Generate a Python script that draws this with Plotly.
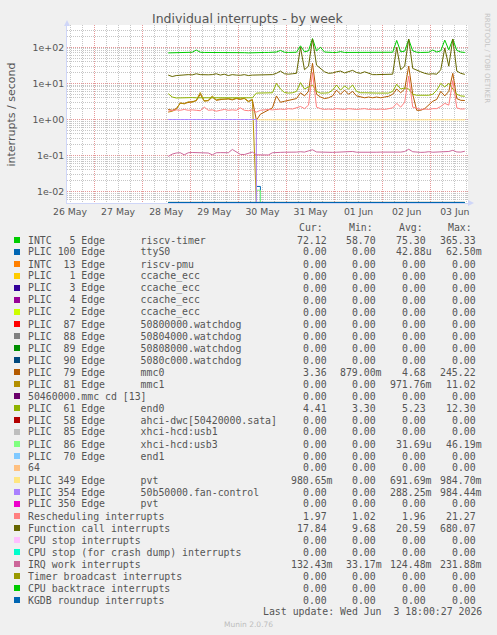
import plotly.graph_objects as go
import pandas as pd

# ---------------- data ----------------
times = pd.date_range("2026-05-28 13:00", periods=75, freq="2h")

timer = [70, 71, 72, 72, 72, 72, 73, 84, 73, 72,
         72, 74, 72, 72, 71, 72, 73, 72, 72, 71,
         70, 71, 73, 72, 72, 72, 74, 74, 82, 73,
         72, 72, 73, 110, 75, 80, 175, 80, 100, 74,
         72, 72, 72, 76, 72, 72, 75, 72, 72, 72,
         72, 72, 72, 72, 72, 72, 73, 155, 75, 78,
         165, 80, 73, 72, 74, 73, 84, 74, 80, 158,
         85, 170, 82, 74, 72]

funccall = [17, 15.5, 16.5, 17, 16.8, 17.5, 17.2, 18.5, 17.5, 17,
            17.3, 17.5, 18.5, 17, 18, 16.5, 17.5, 17, 16.8, 17.5,
            16.5, 17, 17, 17, 17.5, 17.2, 17.5, 19, 22, 18.5,
            18, 18.5, 19, 100, 24, 30, 170, 32, 26, 21,
            19, 19.5, 21, 22, 19.5, 21, 23, 20, 19, 21,
            19, 17.5, 17.5, 17.5, 17.5, 17.5, 18, 100, 24, 30,
            170, 26, 23, 21, 19, 18, 18.5, 18, 24, 95,
            30, 170, 22, 19, 17.8]

end0 = [5.2, 4.2, 3.95, 4.0, 4.0, 4.0, 4.05, 4.0, 4.0, 4.0,
        4.0, 4.05, 4.0, 4.0, 4.0, 4.0, 4.05, 4.0, 4.0, 4.0,
        4.0, 4.0, 5.4, 5.4, 5.4, 5.4, 5.5, 10, 7, 5.6,
        5.4, 5.5, 6, 10.5, 7, 8, 9, 6, 5.4, 5.4,
        5.5, 6.5, 9, 6.5, 8.5, 7, 9, 6, 5.5, 5.5,
        5.4, 5.4, 5.4, 5.4, 5.4, 5.4, 6, 9.5, 7, 7.5,
        7, 5, 4.7, 4.7, 4.7, 4.7, 5, 6.5, 10, 8,
        10, 7, 5, 4.5, 4.4]

mmc0 = [1.9, 1.8, 2.0, 2.8, 2.8, 3.0, 3.1, 3.3, 5.0, 3.3,
        3.3, 4.2, 3.4, 3.6, 3.7, 3.7, 3.5, 3.8, 3.6, 3.9,
        3.2, 3.5, 0.95, 1.4, 1.6, 1.8, 2.1, 4.5, 3.0, 3.2,
        3.4, 3.6, 3.8, 5.5, 4.5, 6, 36, 5, 4.2, 3.8,
        4.0, 4.5, 6.5, 5, 6.5, 5, 6, 4.5, 4.2, 4.0,
        4.2, 4.0, 4.2, 4.0, 4.2, 4.4, 5, 7, 5.5, 7,
        30, 5, 1.8, 1.8, 2.0, 2.6, 3.2, 3.6, 6, 4.5,
        6, 19, 3.8, 3.4, 3.36]

mmc1 = [1.6, 1.7, 1.9, 2.9, 2.7, 3.1, 3.0, 3.4, 5.6, 3.2,
        3.4, 4.5, 3.5, 3.7, 3.6, 3.8, 3.6, 3.9, 3.7, 3.8,
        3.1, 3.6, 0, 0, 0, 0, 0, 0, 0, 0,
        0, 0, 0, 0, 0, 0, 0, 0, 0, 0,
        0, 0, 0, 0, 0, 0, 0, 0, 0, 0,
        0, 0, 0, 0, 0, 0, 0, 0, 0, 0,
        0, 0, 0, 0, 0, 0, 0, 0, 0, 0,
        0, 0, 0, 0, 0]

resched = [1.7, 1.8, 1.85, 1.8, 1.9, 1.8, 1.85, 1.8, 1.75, 2.2,
           1.8, 1.85, 1.7, 1.8, 1.9, 1.8, 1.85, 1.8, 2.1, 1.8,
           1.75, 1.85, 1.6, 1.8, 1.85, 1.9, 1.85, 1.9, 1.95, 1.9,
           2.0, 1.95, 2.1, 2.3, 2.0, 2.5, 20, 2.2, 2.0, 1.9,
           1.95, 1.9, 2.0, 1.95, 1.9, 2.0, 1.95, 1.9, 1.95, 2.0,
           1.9, 1.95, 1.9, 1.95, 1.9, 2.0, 2.1, 2.8, 2.2, 3.0,
           16, 2.2, 2.0, 1.9, 1.95, 1.9, 2.0, 2.0, 2.3, 2.8,
           2.5, 12, 2.1, 1.95, 1.97]

irqwork = [0.095, 0.11, 0.118, 0.12, 0.105, 0.12, 0.122, 0.12, 0.121, 0.12,
           0.118, 0.105, 0.12, 0.121, 0.12, 0.12, 0.148, 0.125, 0.108, 0.107,
           0.118, 0.125, 0.105, 0.105, 0.105, 0.104, 0.12, 0.124, 0.123, 0.124,
           0.123, 0.124, 0.125, 0.128, 0.125, 0.135, 0.145, 0.126, 0.124, 0.123,
           0.124, 0.123, 0.124, 0.125, 0.124, 0.126, 0.13, 0.124, 0.123, 0.124,
           0.124, 0.123, 0.124, 0.125, 0.124, 0.123, 0.124, 0.126, 0.125, 0.13,
           0.15, 0.128, 0.124, 0.123, 0.124, 0.128, 0.124, 0.125, 0.126, 0.13,
           0.13, 0.14, 0.126, 0.125, 0.132]

pvt349 = [0, 0, 0, 0, 0, 0, 0, 0, 0, 0,
          0, 0, 0, 0, 0, 0, 0, 0, 0, 0,
          0, 0, 0.98, 0.98, 0.98, 0.98, 0.98, 0.98, 0.98, 0.98,
          0.98, 0.98, 0.98, 0.98, 0.98, 0.98, 0.98, 0.98, 0.98, 0.98,
          0.98, 0.98, 0.98, 0.98, 0.98, 0.98, 0.98, 0.98, 0.98, 0.98,
          0.98, 0.98, 0.98, 0.98, 0.98, 0.98, 0.98, 0.98, 0.98, 0.98,
          0.98, 0.98, 0.98, 0.98, 0.98, 0.98, 0.98, 0.98, 0.98, 0.98,
          0.98, 0.98, 0.98, 0.98, 0.98]

fanctl = [1.0, 1.0, 1.0, 1.0, 1.0, 1.0, 1.0, 1.0, 1.0, 1.0,
          1.0, 1.0, 1.0, 1.0, 1.0, 1.0, 1.0, 1.0, 1.0, 1.0,
          1.0, 1.0, 0, 0, 0, 0, 0, 0, 0, 0,
          0, 0, 0, 0, 0, 0, 0, 0, 0, 0,
          0, 0, 0, 0, 0, 0, 0, 0, 0, 0,
          0, 0, 0, 0, 0, 0, 0, 0, 0, 0,
          0, 0, 0, 0, 0, 0, 0, 0, 0, 0,
          0, 0, 0, 0, 0]

ttys0 = [0, 0, 0, 0, 0, 0, 0, 0, 0, 0,
         0, 0, 0, 0, 0, 0, 0, 0, 0, 0,
         0, 0, 0.014, 0, 0, 0, 0, 0, 0, 0,
         0, 0, 0, 0, 0, 0, 0, 0, 0, 0,
         0, 0, 0, 0, 0, 0, 0, 0, 0, 0,
         0, 0, 0, 0, 0, 0, 0, 0, 0, 0,
         0, 0, 0, 0, 0, 0, 0, 0, 0, 0,
         0, 0, 0, 0, 0]

usb3 = [0, 0, 0, 0, 0, 0, 0, 0, 0, 0,
        0, 0, 0, 0, 0, 0, 0, 0, 0, 0,
        0, 0, 0.011, 0, 0, 0, 0, 0, 0, 0,
        0, 0, 0, 0, 0, 0, 0, 0, 0, 0,
        0, 0, 0, 0, 0, 0, 0, 0, 0, 0,
        0, 0, 0, 0, 0, 0, 0, 0, 0, 0,
        0, 0, 0, 0, 0, 0, 0, 0, 0, 0,
        0, 0, 0, 0, 0]

always_zero = [0.0] * len(times)   # series that read 0.00 throughout

# legend rows: label, colour, series, cur, min, avg, max
labels = ["INTC   5 Edge      riscv-timer", "PLIC 100 Edge      ttyS0",
          "INTC  13 Edge      riscv-pmu", "PLIC   1 Edge      ccache_ecc",
          "PLIC   3 Edge      ccache_ecc", "PLIC   4 Edge      ccache_ecc",
          "PLIC   2 Edge      ccache_ecc", "PLIC  87 Edge      50800000.watchdog",
          "PLIC  88 Edge      50804000.watchdog", "PLIC  89 Edge      50808000.watchdog",
          "PLIC  90 Edge      5080c000.watchdog", "PLIC  79 Edge      mmc0",
          "PLIC  81 Edge      mmc1", "50460000.mmc cd [13]",
          "PLIC  61 Edge      end0", "PLIC  58 Edge      ahci-dwc[50420000.sata]",
          "PLIC  85 Edge      xhci-hcd:usb1", "PLIC  86 Edge      xhci-hcd:usb3",
          "PLIC  70 Edge      end1", "64",
          "PLIC 349 Edge      pvt", "PLIC 354 Edge      50b50000.fan-control",
          "PLIC 350 Edge      pvt", "Rescheduling interrupts",
          "Function call interrupts", "CPU stop interrupts",
          "CPU stop (for crash dump) interrupts", "IRQ work interrupts",
          "Timer broadcast interrupts", "CPU backtrace interrupts",
          "KGDB roundup interrupts"]
colors = ["#00CC00", "#0066B3", "#FF8000", "#FFCC00", "#330099", "#990099",
          "#CCFF00", "#FF0000", "#808080", "#008F00", "#00487D", "#B35A00",
          "#B38F00", "#6B006B", "#8FB300", "#B30000", "#BEBEBE", "#80FF80",
          "#80C9FF", "#FFC080", "#FFE680", "#AA80FF", "#EE00CC", "#FF8080",
          "#666600", "#FFBFFF", "#00FFCC", "#CC6699", "#999900", "#00CC00",
          "#0066B3"]
series = [timer, ttys0, always_zero, always_zero, always_zero, always_zero,
          always_zero, always_zero, always_zero, always_zero, always_zero, mmc0,
          mmc1, always_zero, end0, always_zero, always_zero, usb3,
          always_zero, always_zero, pvt349, fanctl, always_zero, resched,
          funccall, always_zero, always_zero, irqwork, always_zero, always_zero,
          always_zero]
step_series = {1, 17, 20, 21}
z = "0.00"
cur = ["72.12", z, z, z, z, z, z, z, z, z, z, "3.36", z, z, "4.41", z, z, z, z, z,
       "980.65m", z, z, "1.97", "17.84", z, z, "132.43m", z, z, z]
mins = ["58.70", z, z, z, z, z, z, z, z, z, z, "879.00m", z, z, "3.30", z, z, z, z, z,
        z, z, z, "1.02", "9.68", z, z, "33.17m", z, z, z]
avgs = ["75.30", "42.88u", z, z, z, z, z, z, z, z, z, "4.68", "971.76m", z, "5.23", z, z,
        "31.69u", z, z, "691.69m", "288.25m", z, "1.96", "20.59", z, z, "124.48m", z, z, z]
maxs = ["365.33", "62.50m", z, z, z, z, z, z, z, z, z, "245.22", "11.02", z, "12.30", z, z,
        "46.19m", z, z, "984.70m", "984.44m", z, "21.27", "680.07", z, z, "231.88m", z, z, z]

y_ticks = [0.01, 0.1, 1, 10, 100]
y_ticktext = ["1e-02", "1e-01", "1e+00", "1e+01", "1e+02"]

# ---------------- layout geometry ----------------
W, H = 497, 635
PX0, PX1, PY0, PY1 = 67, 468, 25, 203
Y_LO, Y_HI = -2.313, 2.618
X_LO, X_HI = "2026-05-26 10:30", "2026-06-03 18:35"


def fx(x):
    return (x - PX0) / (PX1 - PX0)


def fy(y):
    return (PY1 - y) / (PY1 - PY0)


floor = 10 ** (Y_LO + 0.014)   # rrdtool draws zero at the bottom of a log scale

fig = go.Figure()
for i, (s, c) in enumerate(zip(series, colors)):
    fig.add_trace(go.Scatter(
        x=times, y=[max(v, floor) for v in s], mode="lines",
        line=dict(color=c, width=1, shape="hv" if i in step_series else "linear"),
        hoverinfo="skip", showlegend=False))

minor_vals = [m * 10 ** e for e in range(-3, 3) for m in range(2, 10)]
GRID_MAJ = "rgba(220,110,110,0.7)"
GRID_MIN = "#C6C6C6"
AXIS_C = "#CFD6F8"
TXT = "#555555"
SANS = "DejaVu Sans"
MONO = "DejaVu Sans Mono"

fig.update_layout(
    width=W, height=H, autosize=False,
    margin=dict(l=PX0, r=W - PX1, t=PY0, b=H - PY1, pad=0),
    paper_bgcolor="#F0F0F0", plot_bgcolor="#FFFFFF",
    xaxis=dict(type="date", range=[X_LO, X_HI], tick0="2026-05-26 00:00",
               dtick=86400000, ticklabelmode="period", tickformat="%d %b",
               showgrid=True, gridcolor=GRID_MAJ, griddash="1px,1px", gridwidth=1,
               minor=dict(dtick=21600000, tick0="2026-05-26 00:00", showgrid=True,
                          gridcolor=GRID_MIN, griddash="1px,1px", gridwidth=1),
               showline=True, linecolor=AXIS_C, linewidth=1, ticks="",
               tickfont=dict(family=SANS, size=9.3, color=TXT), zeroline=False),
    yaxis=dict(type="log", range=[Y_LO, Y_HI], tickmode="array", tickvals=y_ticks,
               ticktext=y_ticktext, showgrid=True, gridcolor=GRID_MAJ,
               griddash="1px,1px", gridwidth=1,
               minor=dict(tickmode="array", tickvals=minor_vals, showgrid=True,
                          gridcolor=GRID_MIN, griddash="1px,1px", gridwidth=1),
               showline=True, linecolor=AXIS_C, linewidth=1, ticks="",
               tickfont=dict(family=SANS, size=9.4, color=TXT), zeroline=False),
)

ann = []


def text(x, y, t, size, family=MONO, color=TXT, xanchor="left", angle=0):
    ann.append(dict(x=fx(x), y=fy(y), xref="paper", yref="paper", text=t,
                    showarrow=False, xanchor=xanchor, yanchor="middle",
                    borderpad=0, textangle=angle,
                    font=dict(family=family, size=size, color=color)))


def nb(s):
    return s.replace(" ", "\u00a0")


text(248, 19, "Individual interrupts - by week", 12.5, SANS, "#555555", "center")
text(11, 114.5, "interrupts / second", 11, SANS, TXT, "center", -90)
text(487, 58, "RRDTOOL / TOBI OETIKER", 7, SANS, "#C4C4C4", "center", 90)

MS = 9.85
for hx, ht in [(297.7, "Cur:"), (347.7, "Min:"), (397.7, "Avg:"), (446.7, "Max:")]:
    text(hx, 227.3, ht, MS)

col_right = [333.6, 383.2, 432.9, 482.6]


def fmt(v):
    return v if v[-1].isalpha() else v + "\u00a0"


shapes = []
for i, lab in enumerate(labels):
    yc = 240 + 12 * i
    shapes.append(dict(type="rect", xref="paper", yref="paper",
                       x0=fx(14), x1=fx(20), y0=fy(yc + 3), y1=fy(yc - 3),
                       fillcolor=colors[i], line=dict(width=0)))
    text(26.5, yc, nb(lab), MS)
    for cx, v in zip(col_right, [cur[i], mins[i], avgs[i], maxs[i]]):
        text(cx, yc, fmt(v), MS, xanchor="right")

text(482.7, 611.3, nb("Last update: Wed Jun  3 18:00:27 2026"), MS, xanchor="right")
text(248, 624.5, "Munin 2.0.76", 7.5, SANS, "#BDBDBD", "center")

# axis arrows
shapes.append(dict(type="path", xref="paper", yref="paper",
                   path=f"M {fx(64)} {fy(26)} L {fx(70)} {fy(26)} L {fx(67)} {fy(20)} Z",
                   fillcolor=AXIS_C, line=dict(width=0)))
shapes.append(dict(type="path", xref="paper", yref="paper",
                   path=f"M {fx(468)} {fy(200)} L {fx(468)} {fy(206)} L {fx(474)} {fy(203)} Z",
                   fillcolor=AXIS_C, line=dict(width=0)))

fig.update_layout(annotations=ann, shapes=shapes)
fig.write_html("out.html")
